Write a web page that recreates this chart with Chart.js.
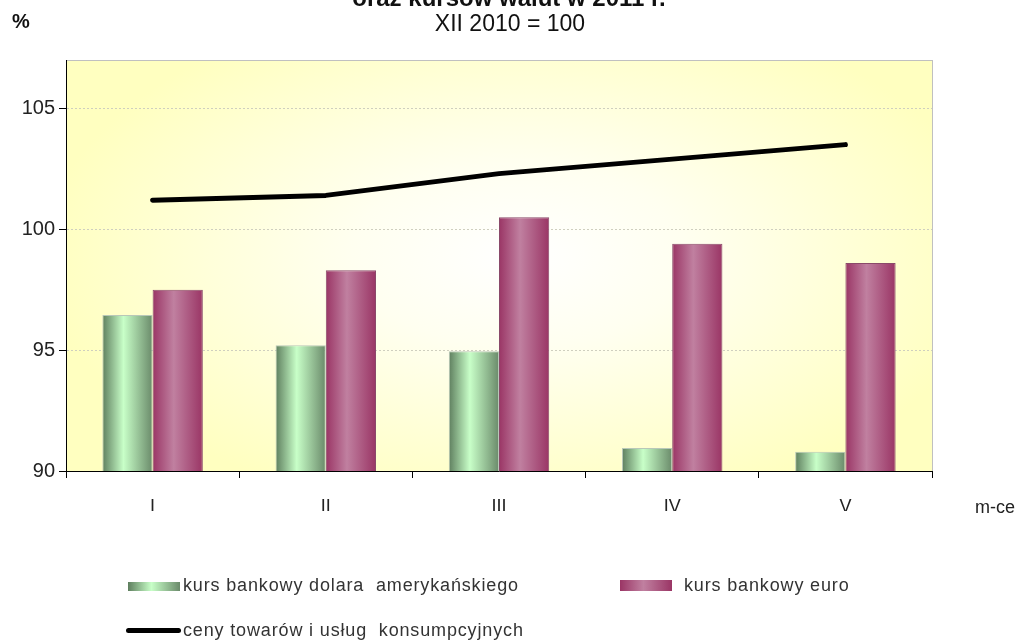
<!DOCTYPE html>
<html>
<head>
<meta charset="utf-8">
<script src="https://cdn.jsdelivr.net/npm/chart.js@4/dist/chart.umd.min.js"></script>
<style>
  html, body { margin: 0; padding: 0; background: #fff; }
  #wrap { position: relative; width: 1028px; height: 643px; overflow: hidden; font-family: "Liberation Sans", Arial, sans-serif; color: #111; }
  #chart { position: absolute; left: 0; top: 0; }
  .txt { position: absolute; white-space: pre; }
  #title { left: 0; width: 1018px; top: -16px; text-align: center; font-weight: bold; font-size: 24px; }
  #subtitle { left: 0; width: 1020px; top: 10px; text-align: center; font-size: 23px; }
  #pct { left: 12px; top: 10px; font-size: 20px; font-weight: bold; }
  #mce { left: 975px; top: 497px; font-size: 18px; color: #222; }
  .leg { font-size: 18px; color: #333; letter-spacing: 0.85px; }
  .sw { position: absolute; }
</style>
</head>
<body>
<div id="wrap">
  <canvas id="chart" width="1028" height="643"></canvas>
  <div class="txt" id="title">oraz kursów walut w 2011 r.</div>
  <div class="txt" id="subtitle">XII 2010 = 100</div>
  <div class="txt" id="pct">%</div>
  <div class="txt" id="mce">m-ce</div>

  <div class="sw" style="left:128px; top:582px; width:52px; height:9px; background:linear-gradient(90deg,#5e7e5e,#c8ffc8 45%,#6a8a6a);"></div>
  <div class="txt leg" style="left:183px; top:575px;">kurs bankowy dolara  amerykańskiego</div>
  <div class="sw" style="left:620px; top:580px; width:52px; height:11px; background:linear-gradient(90deg,#9a3565,#c080a0 45%,#9a3565);"></div>
  <div class="txt leg" style="left:684px; top:575px;">kurs bankowy euro</div>
  <div class="sw" style="left:126px; top:628px; width:55px; height:5px; border-radius:3px; background:#000;"></div>
  <div class="txt leg" style="left:183px; top:620px;">ceny towarów i usług  konsumpcyjnych</div>
</div>
<script>
const months = ["I", "II", "III", "IV", "V"];
const usd = [96.45, 95.2, 94.95, 90.95, 90.8];
const eur = [97.5, 98.3, 100.5, 99.4, 98.6];
const cpi = [101.2, 101.4, 102.3, 102.9, 103.5];
const yTicks = [90, 95, 100, 105];

const CAT_PCT = 0.58;

// tło obszaru wykresu - radialny gradient + szara ramka
const plotBg = {
  id: "plotBg",
  beforeDraw(chart) {
    const { ctx, chartArea: a } = chart;
    const cx = (a.left + a.right) / 2 + 20;
    const cy = (a.top + a.bottom) / 2 - 10;
    const w = a.right - a.left;
    ctx.save();
    ctx.beginPath();
    ctx.rect(a.left, a.top, w, a.bottom - a.top);
    ctx.clip();
    ctx.translate(cx, cy);
    ctx.scale(1, 0.55);
    const g = ctx.createRadialGradient(0, 0, 0, 0, 0, w * 0.55);
    g.addColorStop(0, "#ffffff");
    g.addColorStop(0.35, "#fffff0");
    g.addColorStop(1, "#ffffc0");
    ctx.fillStyle = g;
    ctx.fillRect(-w, -w, 2 * w, 2 * w);
    ctx.restore();
    ctx.save();
    ctx.strokeStyle = "#c0c0c0";
    ctx.lineWidth = 1;
    ctx.strokeRect(a.left + 0.5, a.top + 0.5, w, a.bottom - a.top);
    ctx.restore();
  }
};

// gradient poziomy dla pojedynczego słupka
function barGradient(stops) {
  return function (c) {
    const chart = c.chart;
    const xs = chart.scales.x;
    if (!chart.chartArea || !xs || c.dataIndex === undefined) return stops[1];
    const bw = (xs.width / months.length) * CAT_PCT / 2;
    const center = xs.getPixelForValue(c.dataIndex) + (c.datasetIndex === 0 ? -bw / 2 : bw / 2);
    const x0 = center - bw / 2;
    const g = chart.ctx.createLinearGradient(x0, 0, x0 + bw, 0);
    g.addColorStop(0, stops[0]);
    g.addColorStop(0.42, stops[1]);
    g.addColorStop(1, stops[2]);
    return g;
  };
}

new Chart(document.getElementById("chart"), {
  type: "bar",
  data: {
    labels: months,
    datasets: [
      {
        label: "kurs bankowy dolara amerykańskiego",
        data: usd,
        backgroundColor: barGradient(["#5e7e5e", "#c8ffc8", "#6a8a6a"]),
        borderColor: "#b8c8b8",
        borderWidth: 1,
        borderSkipped: "bottom",
        categoryPercentage: CAT_PCT,
        barPercentage: 1,
        order: 2
      },
      {
        label: "kurs bankowy euro",
        data: eur,
        backgroundColor: barGradient(["#9a3565", "#c080a0", "#9a3565"]),
        borderColor: "#8a4a6a",
        borderWidth: 1,
        borderSkipped: "bottom",
        categoryPercentage: CAT_PCT,
        barPercentage: 1,
        order: 3
      },
      {
        type: "line",
        label: "ceny towarów i usług konsumpcyjnych",
        data: cpi,
        borderColor: "#000",
        borderWidth: 5,
        tension: 0,
        pointRadius: 0,
        borderCapStyle: "round",
        borderJoinStyle: "round",
        order: 1
      }
    ]
  },
  options: {
    responsive: false,
    animation: false,
    layout: { padding: { left: 0, top: 60, right: 96, bottom: 132 } },
    plugins: {
      legend: { display: false },
      tooltip: { enabled: false }
    },
    scales: {
      x: {
        offset: true,
        grid: {
          offset: true,
          drawOnChartArea: false,
          tickLength: 7,
          tickColor: "#000"
        },
        border: { color: "#000", width: 1 },
        ticks: {
          padding: 18,
          color: "#222",
          font: { family: "Liberation Sans", size: 18 }
        },
        afterFit(scale) { scale.height = 40; }
      },
      y: {
        min: 90,
        max: 107,
        afterBuildTicks(axis) { axis.ticks = yTicks.map(v => ({ value: v })); },
        grid: {
          color: "#cfcfbf",
          tickColor: "#000",
          tickLength: 7,
          lineWidth: 1
        },
        border: { color: "#000", width: 1, dash: [2, 2] },
        ticks: {
          padding: 4,
          color: "#222",
          font: { family: "Liberation Sans", size: 20 }
        },
        afterFit(scale) { scale.width = 66; }
      }
    }
  },
  plugins: [plotBg]
});
</script>
</body>
</html>
